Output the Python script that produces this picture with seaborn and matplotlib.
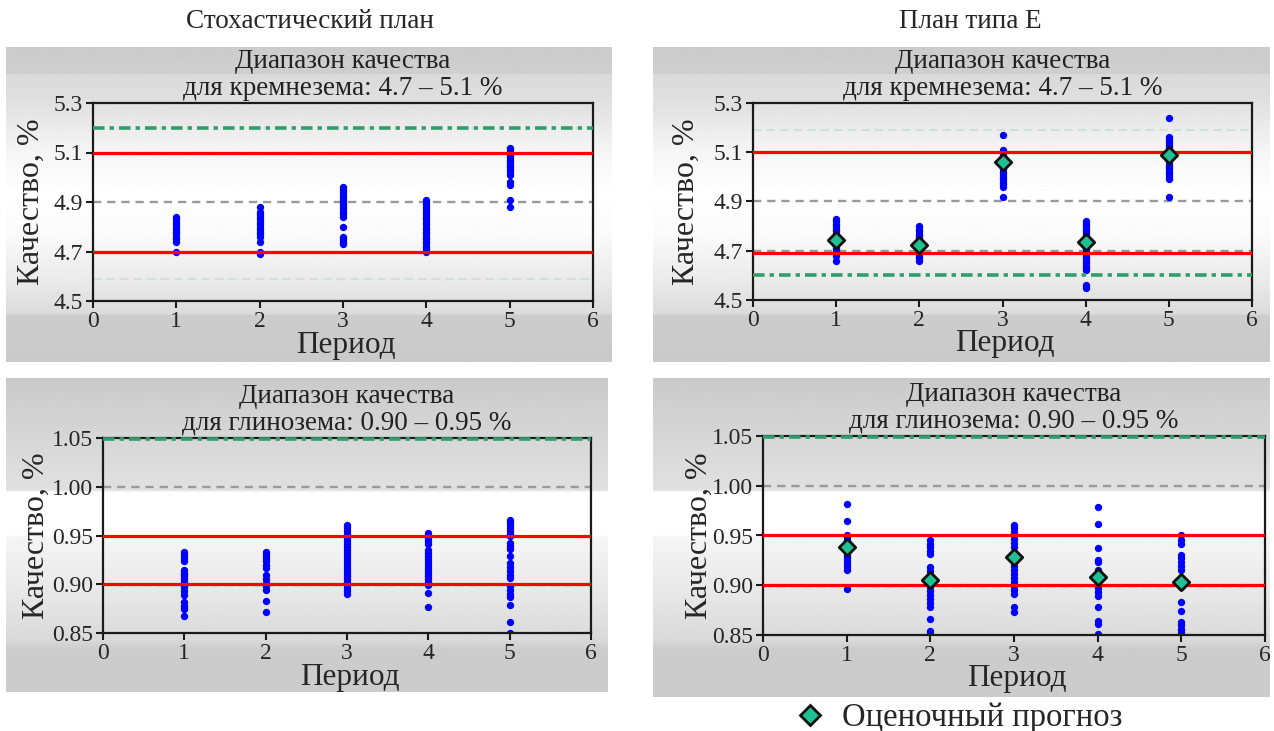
import numpy as np
import pandas as pd
import matplotlib
matplotlib.use('Agg')
import matplotlib.pyplot as plt
from matplotlib.lines import Line2D
import seaborn as sns

sns.set_style('ticks')
plt.rcParams['font.family'] = ['Liberation Serif', 'DejaVu Serif']

# --- data ---
periods = [1, 2, 3, 4, 5]

# stochastic plan, silica
stoch_si = {
    1: [4.70, 4.74, 4.75, 4.76, 4.77, 4.78, 4.79, 4.80, 4.81, 4.82, 4.83, 4.84],
    2: [4.69, 4.70, 4.74, 4.76, 4.77, 4.78, 4.79, 4.80, 4.81, 4.82, 4.83, 4.84, 4.85, 4.86, 4.88],
    3: [4.73, 4.74, 4.75, 4.76, 4.80, 4.84, 4.85, 4.86, 4.87, 4.88, 4.89, 4.90, 4.91, 4.92,
        4.93, 4.94, 4.95, 4.96],
    4: [4.70, 4.71, 4.72, 4.73, 4.74, 4.75, 4.76, 4.77, 4.78, 4.79, 4.80, 4.81, 4.82, 4.83,
        4.84, 4.85, 4.86, 4.87, 4.88, 4.89, 4.90, 4.91],
    5: [4.88, 4.91, 4.97, 4.98, 5.01, 5.02, 5.03, 5.04, 5.05, 5.06, 5.07, 5.08, 5.09, 5.10,
        5.11, 5.12],
}
# plan type E, silica
plan_e_si = {
    1: [4.66, 4.68, 4.69, 4.70, 4.71, 4.72, 4.73, 4.74, 4.75, 4.76, 4.77, 4.78, 4.79, 4.80,
        4.81, 4.82, 4.83],
    2: [4.66, 4.67, 4.68, 4.69, 4.70, 4.71, 4.72, 4.73, 4.74, 4.75, 4.76, 4.77, 4.78, 4.79, 4.80],
    3: [4.92, 4.96, 4.97, 4.98, 4.99, 5.00, 5.01, 5.02, 5.03, 5.04, 5.05, 5.06, 5.07, 5.08,
        5.09, 5.10, 5.11, 5.17],
    4: [4.55, 4.56, 4.62, 4.63, 4.64, 4.65, 4.66, 4.67, 4.68, 4.70, 4.71, 4.72, 4.73, 4.74,
        4.75, 4.76, 4.77, 4.78, 4.79, 4.80, 4.81, 4.82],
    5: [4.92, 4.99, 5.00, 5.01, 5.02, 5.03, 5.04, 5.05, 5.06, 5.07, 5.08, 5.09, 5.10, 5.11,
        5.12, 5.13, 5.14, 5.15, 5.16, 5.24],
}
forecast_si = [4.745, 4.725, 5.06, 4.735, 5.09]

# stochastic plan, alumina
stoch_al = {
    1: [0.867, 0.875, 0.878, 0.882, 0.889, 0.893, 0.897, 0.900, 0.903, 0.906, 0.909, 0.912,
        0.915, 0.924, 0.927, 0.930, 0.933],
    2: [0.872, 0.883, 0.894, 0.898, 0.901, 0.905, 0.909, 0.917, 0.920, 0.924, 0.927, 0.930, 0.933],
    3: [0.890, 0.893, 0.896, 0.899, 0.902, 0.905, 0.908, 0.911, 0.914, 0.917, 0.920, 0.923,
        0.926, 0.929, 0.932, 0.935, 0.938, 0.941, 0.944, 0.947, 0.950, 0.953, 0.956, 0.959, 0.961],
    4: [0.877, 0.891, 0.899, 0.902, 0.905, 0.908, 0.911, 0.914, 0.917, 0.920, 0.923, 0.926,
        0.929, 0.932, 0.935, 0.941, 0.944, 0.947, 0.950, 0.953],
    5: [0.850, 0.861, 0.879, 0.887, 0.890, 0.894, 0.898, 0.906, 0.910, 0.914, 0.918, 0.922,
        0.929, 0.936, 0.939, 0.942, 0.949, 0.952, 0.955, 0.958, 0.961, 0.964, 0.966],
}
# plan type E, alumina
plan_e_al = {
    1: [0.896, 0.915, 0.918, 0.921, 0.924, 0.927, 0.930, 0.933, 0.936, 0.939, 0.942, 0.945,
        0.948, 0.950, 0.965, 0.982],
    2: [0.851, 0.854, 0.866, 0.878, 0.882, 0.886, 0.890, 0.894, 0.898, 0.902, 0.906, 0.910,
        0.914, 0.918, 0.931, 0.934, 0.938, 0.941, 0.945],
    3: [0.873, 0.878, 0.891, 0.895, 0.899, 0.903, 0.907, 0.911, 0.915, 0.919, 0.923, 0.927,
        0.931, 0.938, 0.942, 0.946, 0.950, 0.954, 0.958, 0.961],
    4: [0.851, 0.861, 0.864, 0.878, 0.889, 0.893, 0.897, 0.901, 0.905, 0.909, 0.912, 0.915,
        0.923, 0.925, 0.937, 0.962, 0.979],
    5: [0.850, 0.853, 0.856, 0.860, 0.863, 0.874, 0.883, 0.898, 0.901, 0.915, 0.919, 0.923,
        0.927, 0.930, 0.941, 0.945, 0.950],
}
forecast_al = [0.938, 0.905, 0.928, 0.908, 0.903]

# reference lines: (red limits, grey dashed, green dash-dot, pale dashed)
lines_stoch_si = ([4.70, 5.10], [4.90], [5.20], [4.59])
lines_e_si = ([4.69, 5.10], [4.90, 4.70], [4.60], [5.19])
lines_al = ([0.90, 0.95], [1.00], [1.049], [0.898])

si_ticks = [4.5, 4.7, 4.9, 5.1, 5.3]
al_ticks = [0.85, 0.90, 0.95, 1.00, 1.05]
x_ticks = [0, 1, 2, 3, 4, 5, 6]

col_titles = ['Стохастический план', 'План типа E']
title_si = 'Диапазон качества\nдля кремнезема: 4.7 – 5.1 %'
title_al = 'Диапазон качества\nдля глинозема: 0.90 – 0.95 %'
ylab = 'Качество, %'
xlab = 'Период'
legend_label = 'Оценочный прогноз'


def to_df(d):
    rows = [(p, v) for p in d for v in d[p]]
    return pd.DataFrame(rows, columns=['period', 'value'])


W, H = 1274, 731
fig = plt.figure(figsize=(W / 100, H / 100), dpi=100)
fig.patch.set_facecolor('white')


def rect(l, t, r, b):
    return [l / W, 1 - b / H, (r - l) / W, (b - t) / H]


def background(box, stops_y, stops_v):
    l, t, r, b = box
    ys = np.arange(t, b + 1)
    g = np.interp(ys, stops_y, stops_v)
    bg = fig.add_axes(rect(l, t, r, b), zorder=0)
    bg.imshow(g[:, None], cmap='gray', vmin=0, vmax=1, aspect='auto',
              extent=[0, 1, 0, 1], interpolation='bilinear')
    bg.axis('off')


green = '#2f9e6b'
diamond = '#1fc194'

panels = [
    dict(box=(6, 47, 612, 362), ax=(93, 103, 593, 301), data=stoch_si, fc=None,
         lines=lines_stoch_si, lim=(4.5, 5.3), ticks=si_ticks, fmt='{:.1f}', title=title_si,
         ylx=-0.094, xly=-0.15,
         sy=[47, 73, 74, 103, 150, 195, 235, 285, 314, 316, 362],
         sv=[0.80, 0.81, 0.85, 0.88, 0.96, 1.0, 0.98, 0.91, 0.86, 0.80, 0.79]),
    dict(box=(653, 47, 1270, 362), ax=(753, 103, 1252, 300), data=plan_e_si, fc=forecast_si,
         lines=lines_e_si, lim=(4.5, 5.3), ticks=si_ticks, fmt='{:.1f}', title=title_si,
         ylx=-0.104, xly=-0.145,
         sy=[47, 73, 74, 103, 150, 195, 235, 285, 314, 316, 362],
         sv=[0.80, 0.81, 0.85, 0.88, 0.96, 1.0, 0.98, 0.91, 0.86, 0.80, 0.79]),
    dict(box=(6, 378, 608, 692), ax=(103, 438, 591, 633), data=stoch_al, fc=None,
         lines=lines_al, lim=(0.85, 1.05), ticks=al_ticks, fmt='{:.2f}', title=title_al,
         ylx=-0.107, xly=-0.155,
         sy=[378, 410, 490, 492, 535, 537, 600, 640, 650, 692],
         sv=[0.79, 0.82, 0.88, 1.0, 1.0, 0.96, 0.90, 0.85, 0.80, 0.80]),
    dict(box=(653, 378, 1270, 697), ax=(763, 436, 1265, 635), data=plan_e_al, fc=forecast_al,
         lines=lines_al, lim=(0.85, 1.05), ticks=al_ticks, fmt='{:.2f}', title=title_al,
         ylx=-0.098, xly=-0.145,
         sy=[378, 410, 490, 492, 535, 537, 600, 640, 650, 697],
         sv=[0.79, 0.82, 0.88, 1.0, 1.0, 0.96, 0.90, 0.85, 0.80, 0.80]),
]

for p in panels:
    background(p['box'], p['sy'], p['sv'])
    ax = fig.add_axes(rect(*p['ax']), zorder=1)
    ax.patch.set_alpha(0)

    sns.scatterplot(data=to_df(p['data']), x='period', y='value', ax=ax, color='#0000ff',
                    s=28, linewidth=0, marker='o', zorder=2, legend=False)

    red, grey, grn, pale = p['lines']
    for y in pale:
        ax.axhline(y, color='#cfe1d8', lw=1.5, ls=(0, (4, 2.5)), zorder=1)
    for y in grey:
        ax.axhline(y, color='#9a9a9a', lw=1.7, ls=(0, (3.5, 2.5)), zorder=1.5)
    for y in grn:
        ax.axhline(y, color=green, lw=2.6, ls=(0, (3.2, 1.4, 1.2, 1.4)), zorder=5, clip_on=False)
    for y in red:
        ax.axhline(y, color='#ff0000', lw=2.3, zorder=3)

    if p['fc'] is not None:
        sns.scatterplot(x=periods, y=p['fc'], ax=ax, marker='D', s=70, color=diamond,
                        edgecolor='#111111', linewidth=2.0, zorder=4, legend=False)

    ax.set_xlim(0, 6)
    ax.set_ylim(*p['lim'])
    ax.set_xticks(x_ticks)
    ax.set_yticks(p['ticks'])
    ax.set_yticklabels([p['fmt'].format(t) for t in p['ticks']])
    ax.tick_params(direction='out', length=5, width=1.5, labelsize=17, pad=2, color='#1a1a1a')
    for s in ax.spines.values():
        s.set_linewidth(1.6)
        s.set_color('#1a1a1a')
        s.set_visible(True)

    ax.set_xlabel(xlab, fontsize=22.5)
    ax.set_ylabel(ylab, fontsize=23)
    ax.xaxis.set_label_coords(0.505, p['xly'])
    ax.yaxis.set_label_coords(p['ylx'], 0.5)
    ax.xaxis.label.set_va('top')
    ax.set_title(p['title'], fontsize=19.5, pad=6, linespacing=1.08, color='#222222')

fig.text(310 / W, 1 - 22 / H, col_titles[0], fontsize=19.5, ha='center', va='center')
fig.text(970 / W, 1 - 22 / H, col_titles[1], fontsize=19.5, ha='center', va='center')

handle = Line2D([], [], marker='D', ls='none', markerfacecolor=diamond, markeredgecolor='#111111',
                markersize=10, markeredgewidth=2.0, label=legend_label)
fig.legend(handles=[handle], loc='center', bbox_to_anchor=(958 / W, 1 - 718 / H), frameon=False,
           fontsize=23.5, handletextpad=0.5, borderpad=0, handlelength=1.0)

fig.savefig('out.png', dpi=100)
